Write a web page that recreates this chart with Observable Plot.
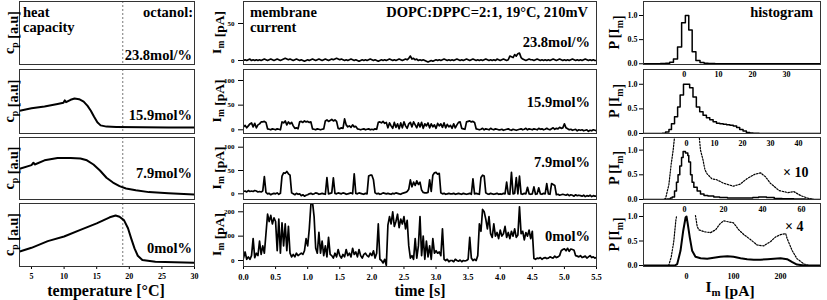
<!DOCTYPE html>
<html><head><meta charset="utf-8">
<script src="https://cdn.jsdelivr.net/npm/d3@7"></script>
<script src="https://cdn.jsdelivr.net/npm/@observablehq/plot@0.6"></script>
<style>
body{margin:0;background:#fff;}
#fig{position:relative;width:827px;height:300px;overflow:hidden;background:#fff;}
</style></head><body><div id="fig"></div>
<script>
// ---------------- DATA ----------------
const concLabels = ["23.8mol/%", "15.9mol%", "7.9mol%", "0mol%"];
const measTemp = 19;
const tempTicks = [5, 10, 15, 20, 25, 30];
const timeTicks = [0, 0.5, 1, 1.5, 2, 2.5, 3, 3.5, 4, 4.5, 5, 5.5];
const curYTicks = [[0, 50], [0, 50, 100], [0, 50, 100], [0, 100, 200]];
const histYTicks = [0, 0.5, 1];
const histXTicks = [[0, 10, 20, 30], [0, 10, 20, 30, 40], [0, 20, 40, 60], [0, 100, 200]];
const dottedScale = [null, null, 10, 4];

// heat capacity (a.u.), 15.9, 7.9, 0 mol% (23.8 mol% has no curve)
const cp159T = [3.2, 5, 7, 9, 9.9, 10.1, 10.3, 11, 11.6, 12.3, 13, 13.6, 14.1, 14.6, 15.1, 15.6, 16.5, 18, 22, 26, 30];
const cp159 = [0.34, 0.38, 0.41, 0.45, 0.47, 0.51, 0.48, 0.52, 0.54, 0.53, 0.49, 0.42, 0.34, 0.24, 0.15, 0.10, 0.08, 0.075, 0.07, 0.065, 0.065];
const cp79T = [3.2, 5, 5.3, 5.5, 7, 9, 11, 12.5, 13.5, 14.5, 15.5, 16.5, 17.5, 18.5, 19.5, 21, 23, 26, 30];
const cp79 = [0.48, 0.54, 0.58, 0.55, 0.62, 0.66, 0.66, 0.65, 0.62, 0.55, 0.45, 0.33, 0.25, 0.19, 0.15, 0.12, 0.09, 0.07, 0.05];
const cp0T = [3.2, 5, 7.5, 10, 12.5, 15, 17, 17.9, 18.5, 19.2, 19.8, 20.3, 20.8, 21.3, 22, 24, 30];
const cp0 = [0.23, 0.29, 0.40, 0.475, 0.585, 0.69, 0.79, 0.82, 0.80, 0.74, 0.61, 0.44, 0.28, 0.16, 0.09, 0.06, 0.045];

// membrane current (pA), sampled every 0.025 s from 0 to 5.5 s
const sampleStep = 0.025;
const cur238 = [
 0,1,0,1,2,0,1,0,1,0, 1,0,1,2,1,0,1,2,1,0, 1,2,1,0,1,2,3,2,1,2, 1,0,1,2,1,0,1,0,-1,0,
 1,0,1,2,1,0,1,2,1,0, 1,2,1,0,1,2,1,2,3,2, 1,2,1,0,1,0,1,2,1,0, 1,0,-1,0,1,0,1,0,1,2,
 1,0,1,0,-1,0,1,0,1,0, 1,2,1,0,1,0,1,2,1,0, 1,2,1,3,6,2,3,1,2,0, 1,0,1,0,-1,-2,-1,0,-1,0,
 1,0,1,0,1,2,1,0,1,0, 1,0,1,2,1,0,1,0,1,2, 1,0,1,2,1,0,1,0,1,0, 1,2,1,0,1,0,1,0,2,1,
 0,1,2,1,0,1,6,5,4,8, 6,9,10,4,2,1,0,1,2,1, 1,0,1,2,1,0,1,0,1,0, 1,0,1,2,1,0,1,2,1,0,
 1,0,1,0,1,2,1,0,1,0, 1,0,1,2,1,0,1,0,1,0, 0];
const cur159 = [
 6,9,4,8,12,14,6,13,4,10, 12,16,16,17,15,2,1,0,2,1, 0,2,1,0,16,14,18,10,16,12, 15,8,3,4,2,16,17,15,18,16,
 17,15,16,2,1,0,2,1,0,1, 2,18,20,17,19,21,18,20,17,3, 2,4,3,22,10,6,8,5,10,6, 7,2,1,0,1,2,0,1,2,0,
 1,0,2,1,15,16,14,17,13,15, 4,14,8,3,15,5,12,2,14,4, 16,8,3,12,15,6,16,10,4,14, 6,15,3,12,8,14,4,12,6,10,
 3,13,8,12,5,14,4,11,6,9, 3,12,4,10,15,16,3,2,1,16, 17,18,16,17,15,2,1,0,1,3, 0,2,1,0,3,1,0,2,1,0,
 0,1,-1,0,1,2,0,-1,1,0, -1,0,1,2,0,1,3,0,2,1, 0,2,1,0,3,1,2,0,1,3, 1,0,2,4,1,3,2,5,3,4,
 12,4,2,0,1,-1,0,1,-2,0, -1,0,-2,-1,0,-3,-1,-2,0,-1, -2];
const cur79 = [
 5,6,4,7,5,6,5,7,6,4, 5,4,6,37,3,0,1,-2,0,1, 0,2,-1,1,38,45,44,48,43,40, 2,0,-2,1,-1,0,-4,-2,-5,-3,
 -2,0,1,-1,0,2,1,-1,0,1, 0,-1,35,0,1,2,34,1,0,2, 1,0,2,1,-1,0,1,2,0,43, 1,0,2,1,0,-1,1,0,38,40,
 40,30,2,0,1,-1,0,2,1,0, 1,0,-1,1,0,2,1,0,-1,1, 2,3,5,10,30,15,25,18,28,20, 25,8,3,2,2,3,30,5,40,45,
 46,42,44,2,0,1,-1,0,1,0, 0,1,-1,0,1,0,-1,1,0,-1, 0,1,-1,32,0,1,0,-1,35,40, 38,2,0,-1,1,0,-1,0,1,-1,
 0,-1,1,0,25,0,-1,46,0,1, 35,0,38,0,-1,1,0,14,0,-1, 0,15,-1,0,13,0,-1,1,0,22, 0,-1,22,20,18,-2,-1,-3,-2,-1,
 -2,-3,-1,-4,-2,-3,-5,-2,-4,-3, -4,-5,-3,-6,-4,-5,-3,-6,-4,-5, -5];
const cur0 = [
 10,35,5,15,5,20,90,12,30,20, 80,25,60,30,110,190,160,185,150,175, 160,40,170,30,155,60,150,40,140,30,
 15,25,15,30,20,25,30,25,40,90, 60,130,230,240,180,50,30,116,30,80, 20,60,15,95,25,20,10,30,15,45,
 20,10,25,15,45,20,30,15,50,25, 35,15,45,20,10,25,30,20,15,30, 20,40,10,30,150,5,0,-10,5,-20,
 145,180,150,200,140,160,190,135,170,150, 180,130,165,60,10,20,5,90,10,60, 180,20,100,5,80,15,60,5,90,30,
 40,30,35,20,130,5,0,5,-5,0, 0,-5,5,0,-3,2,-5,0,-2,0, 5,95,10,0,5,0,20,150,120,210,
 200,170,130,180,110,95,150,100,115,90, 125,100,110,140,95,115,90,120,100,130, 95,105,220,110,120,85,115,100,125,90,
 120,8,5,10,8,12,5,10,12,8, 10,15,12,10,18,12,15,20,40,45, 48,40,50,38,47,45,42,20,18,15,
 20,12,15,18,10,15,20,12,15,10, 12];

// histograms P[Im] (bin left edges for steps)
const h238E = [-12, -7, -5.5, -4.3, -3.2, -2, -0.8, 0.3, 1.3, 2.3, 3.4, 4.6, 5.8, 7, 9, 11, 40];
const h238P = [0, 0.004, 0.01, 0.03, 0.1, 0.35, 0.85, 1.0, 0.7, 0.25, 0.07, 0.025, 0.012, 0.005, 0.002, 0, 0];
const h159E = [-15.4, -8.7, -7.5, -6.3, -5.4, -4.3, -3.2, -2.3, -1.1, 1.1, 2.3, 3.5, 4.7, 5.9, 7.1, 8.3, 9.5, 10.7, 11.9, 13.1, 14.3, 15.5, 16.7, 17.9, 19.0, 20.2, 21.4, 22.6, 23.8, 26, 48];
const h159P = [0, 0.005, 0.03, 0.08, 0.2, 0.34, 0.54, 0.78, 1.0, 0.93, 0.74, 0.54, 0.44, 0.37, 0.32, 0.28, 0.24, 0.21, 0.2, 0.19, 0.18, 0.17, 0.15, 0.12, 0.08, 0.05, 0.02, 0.01, 0.005, 0, 0];
const h79E = [-21, -9, -7.2, -6.3, -5.1, -4.1, -3.3, -2.4, -1.5, -0.7, 0.5, 1.7, 2.2, 3.1, 3.9, 4.8, 6.5, 8.2, 10, 12, 15, 18, 22, 30, 35, 38, 42, 46, 50, 56, 62, 66, 69.7];
const h79P = [0, 0.01, 0.03, 0.05, 0.17, 0.35, 0.5, 0.68, 0.85, 0.97, 0.94, 0.89, 0.76, 0.5, 0.35, 0.25, 0.17, 0.11, 0.08, 0.07, 0.05, 0.04, 0.03, 0.03, 0.04, 0.05, 0.04, 0.02, 0.015, 0.01, 0.005, 0, 0];
const h79x10LeftX = [-21, -11, -9.7, -8, -6.8, -5.8, -5];
const h79x10LeftP = [0, 0, 0.02, 0.3, 0.72, 1.0, 1.3];
const h79x10RightX = [7.5, 8.2, 9.5, 10.5, 11.6, 14, 16.5, 20, 25, 28.5, 32, 36, 39, 41.5, 44, 48.5, 53, 56, 59.5, 63, 66, 69.7];
const h79x10RightP = [1.3, 1.0, 0.8, 0.6, 0.52, 0.42, 0.4, 0.33, 0.27, 0.31, 0.42, 0.51, 0.54, 0.46, 0.33, 0.18, 0.14, 0.16, 0.08, 0.03, 0, 0];
const h0X = [-91.5, -25, -19.8, -12.8, -7, -2, 0, 2.8, 7, 12, 19, 30, 44, 58, 72, 87, 100, 115, 129, 143, 157, 172, 186, 200, 214, 225, 235, 250, 285];
const h0P = [0, 0, 0.03, 0.3, 0.71, 0.98, 1.0, 0.84, 0.57, 0.3, 0.18, 0.15, 0.14, 0.16, 0.18, 0.19, 0.18, 0.15, 0.13, 0.12, 0.12, 0.13, 0.14, 0.15, 0.13, 0.07, 0.02, 0, 0];
const h0x4LeftX = [-38, -32.6, -27, -22.8, -21];
const h0x4LeftP = [0, 0.17, 0.5, 0.91, 1.02];
const h0x4RightX = [19, 22.7, 26, 37, 51, 62, 72, 79, 90, 100, 111, 122, 136, 150, 164, 179, 189, 200, 211, 214, 225, 235, 250, 260];
const h0x4RightP = [1.02, 0.8, 0.73, 0.69, 0.67, 0.73, 0.86, 0.91, 0.89, 0.87, 0.73, 0.63, 0.53, 0.42, 0.40, 0.49, 0.58, 0.63, 0.65, 0.55, 0.3, 0.14, 0.03, 0];

// ---------------- LAYOUT ----------------
const FONT = "'Liberation Serif', 'Times New Roman', serif";
const fig = document.getElementById("fig");
const rows = [[1, 64], [69, 133], [137, 199], [203, 266]];
const LX = 19, LW = 175, MX = 243, MW = 353, RX = 643, RW = 177;
const pts = (xs, ys) => xs.map((x, i) => ({x, y: ys[i]}));
const trace = vals => vals.map((v, i) => ({x: i * sampleStep, y: v}));

function addPlot(o) {
  const marks = [...o.marks];
  if (o.xAxis) marks.push(o.xAxis);
  if (o.yAxis) marks.push(o.yAxis);
  marks.push(Plot.frame({stroke: "#333", strokeWidth: 1}));
  const ml = o.ml || 0, mr = o.mr || 0, mt = o.mt || 0, mb = o.mb || 0;
  const svg = Plot.plot({
    width: o.fw + ml + mr, height: o.fh + mt + mb,
    marginLeft: ml, marginRight: mr, marginTop: mt, marginBottom: mb,
    x: o.xAxis ? {domain: o.xd} : {domain: o.xd, axis: null},
    y: o.yAxis ? {domain: o.yd} : {domain: o.yd, axis: null},
    style: {background: "transparent", overflow: "visible", fontFamily: FONT, fontWeight: "bold", color: "#000", fontSize: "8px"},
    marks
  });
  svg.style.position = "absolute";
  svg.style.left = (o.fl - ml) + "px";
  svg.style.top = (o.ft - mt) + "px";
  fig.appendChild(svg);
}

// left column: heat capacity
const cpData = [null, pts(cp159T, cp159), pts(cp79T, cp79), pts(cp0T, cp0)];
const cpYd = [[0, 1], [-0.033, 1.016], [-0.033, 1], [-0.016, 1.016]];
rows.forEach(([t, b], i) => {
  const marks = [Plot.ruleX([measTemp], {stroke: "#777", strokeDasharray: "2,2", strokeWidth: 1})];
  if (cpData[i]) marks.push(Plot.line(cpData[i], {x: "x", y: "y", stroke: "#000", strokeWidth: 2, clip: true}));
  addPlot({fl: LX, ft: t, fw: LW, fh: b - t, xd: [3.16, 30], yd: cpYd[i], marks, mb: i === 3 ? 20 : 0,
    xAxis: i === 3 ? Plot.axisX(tempTicks, {tickSize: 3, tickPadding: 4, fontSize: 8, label: null}) : null});
});

// middle column: membrane current
const curData = [cur238, cur159, cur79, cur0];
const curYd = [[-5.4, 79.7], [-7.5, 122.3], [-12.2, 120.8], [-24.6, 234]];
rows.forEach(([t, b], i) => {
  addPlot({fl: MX, ft: t, fw: MW, fh: b - t, xd: [0, 5.5], yd: curYd[i], ml: 30, mb: i === 3 ? 20 : 0,
    marks: [Plot.line(trace(curData[i]), {x: "x", y: "y", stroke: "#000", strokeWidth: 1.7, clip: true})],
    yAxis: Plot.axisY(curYTicks[i], {tickSize: 5, tickPadding: 4, fontSize: 7, label: null}),
    xAxis: i === 3 ? Plot.axisX(timeTicks, {tickSize: 3, tickPadding: 4, fontSize: 8.5, tickFormat: d3.format(".1f"), label: null}) : null});
});

// right column: histograms
const histSolid = [pts(h238E, h238P), pts(h159E, h159P), pts(h79E, h79P), pts(h0X, h0P)];
const histCurve = ["step-after", "step-after", "step-after", "linear"];
const histDotted = [[], [], [pts(h79x10LeftX, h79x10LeftP), pts(h79x10RightX, h79x10RightP)], [pts(h0x4LeftX, h0x4LeftP), pts(h0x4RightX, h0x4RightP)]];
const histXd = [[-12, 40], [-15.4, 47.9], [-21, 69.7], [-91.5, 285]];
const histYd = [[-0.015, 1.29], [0, 1.3], [0, 1.255], [-0.02, 1.265]];
rows.forEach(([t, b], i) => {
  const marks = histDotted[i].map(d => Plot.line(d, {x: "x", y: "y", stroke: "#000", strokeWidth: 1.2, strokeDasharray: "1.5,1.5", clip: true}));
  marks.push(Plot.line(histSolid[i], {x: "x", y: "y", curve: histCurve[i], stroke: "#000", strokeWidth: i === 3 ? 2 : 1.5, clip: true}));
  addPlot({fl: RX, ft: t, fw: RW, fh: b - t, xd: histXd[i], yd: histYd[i], ml: 25, mb: 16, marks,
    yAxis: Plot.axisY(histYTicks, {tickSize: 4, tickPadding: 2, fontSize: 8, tickFormat: d3.format(".1f"), label: null}),
    xAxis: Plot.axisX(histXTicks[i], {tickSize: 0, tickPadding: 7, fontSize: 8, label: null})});
});

// ---------------- TEXT OVERLAY ----------------
const ov = d3.create("svg").attr("width", 827).attr("height", 300)
  .style("position", "absolute").style("left", "0px").style("top", "0px")
  .style("font-family", FONT).style("font-weight", "bold").style("pointer-events", "none");
function label(x, y, parts, {anchor = "start", size = 14, rotate = 0} = {}) {
  const t = ov.append("text").attr("text-anchor", anchor).attr("font-size", size).attr("fill", "#000")
    .attr("transform", `translate(${x},${y})` + (rotate ? ` rotate(${rotate})` : ""));
  (Array.isArray(parts) ? parts : [parts]).forEach(p => {
    if (Array.isArray(p)) {
      t.append("tspan").attr("dy", size * 0.25).attr("font-size", size * 0.7).text(p[0]);
      t.append("tspan").attr("dy", -size * 0.25).text("");
    } else t.append("tspan").text(p);
  });
}
label(23, 17, "heat", {size: 14.5});
label(23, 32, "capacity", {size: 14.5});
label(193, 17, "octanol:", {anchor: "end", size: 14.5});
const leftConcY = [60, 120, 178, 253];
const midConcY = [47, 107, 167, 241];
concLabels.forEach((s, i) => {
  label(192, leftConcY[i], s, {anchor: "end", size: 14.5});
  label(590, midConcY[i], s, {anchor: "end", size: 14.5});
});
label(250, 17, "membrane", {size: 14.5});
label(250, 32, "current", {size: 14.5});
label(588, 17, "DOPC:DPPC=2:1, 19°C, 210mV", {anchor: "end", size: 14.5});
label(813, 17, "histogram", {anchor: "end", size: 14.5});
label(783, 177, "× " + dottedScale[2], {size: 14});
label(785, 231, "× " + dottedScale[3], {size: 14});
rows.forEach(([t, b]) => {
  const c = (t + b) / 2;
  label(14, c, ["c", ["p"], " [a.u]"], {anchor: "middle", size: 14, rotate: -90});
  label(221, c, ["I", ["m"], " [pA]"], {anchor: "middle", size: 13.5, rotate: -90});
  label(619, c, ["P [I", ["m"], "]"], {anchor: "middle", size: 14, rotate: -90});
});
label(106, 296, "temperature [°C]", {anchor: "middle", size: 16});
label(420, 296, "time [s]", {anchor: "middle", size: 16});
label(730, 292, ["I", ["m"], " [pA]"], {anchor: "middle", size: 15.5});
fig.appendChild(ov.node());
</script></body></html>
